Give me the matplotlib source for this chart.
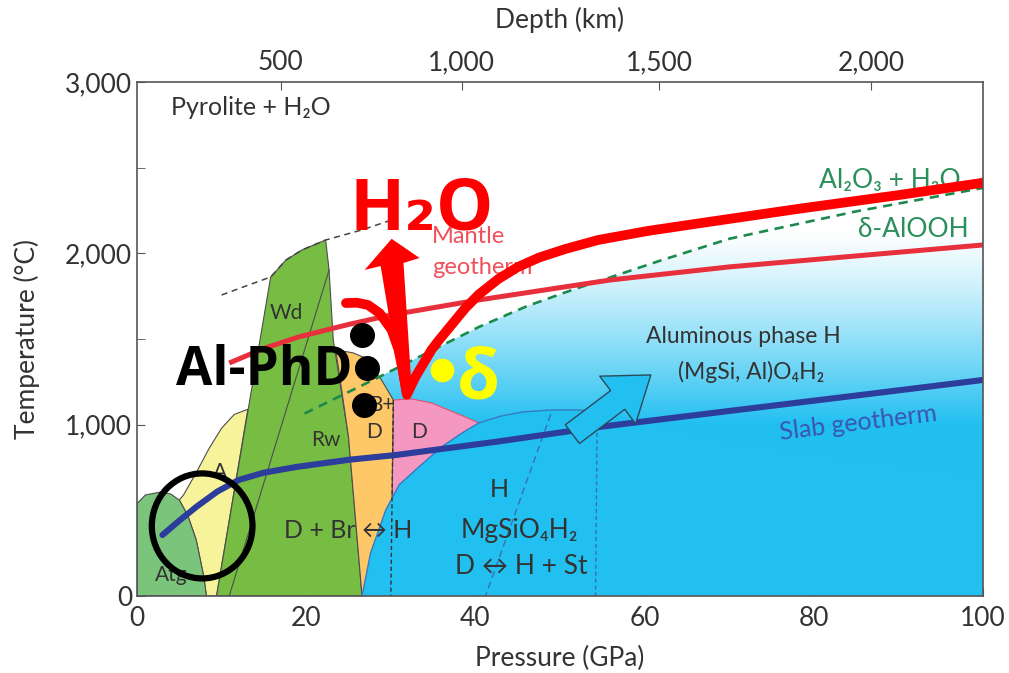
import numpy as np
import matplotlib
matplotlib.use("Agg")
import matplotlib.pyplot as plt
from matplotlib.patches import Polygon, Ellipse, FancyArrowPatch

plt.rcParams['font.family'] = ['Lato', 'DejaVu Sans']

# ---- phase fields (pressure GPa, temperature degC) ----
atg_p = [0, 0, 1.0, 2.8, 4.0, 5.0, 6.0, 7.0, 7.9, 8.2]
atg_t = [0, 540, 590, 607, 595, 560, 470, 327, 111, 0]

a_p = [8.2, 7.9, 7.0, 6.0, 5.0, 5.5, 7.0, 8.5, 10.0, 11.5, 13.1, 9.4]
a_t = [0, 111, 327, 470, 560, 590, 720, 860, 980, 1060, 1090, 0]

wd_p = [9.4, 15.8, 17.6, 19.5, 22.3, 22.7, 23.2, 25.0, 26.6]
wd_t = [0, 1862, 1961, 2020, 2078, 1903, 1494, 928, 0]

bd_p = [26.6, 25.0, 23.5, 25.5, 27.0, 28.9, 30.3, 30.0]
bd_t = [0, 928, 1436, 1420, 1389, 1261, 1144, 0]

d_p = [30.0, 30.3, 32.5, 34.8, 38.8, 40.4, 40.4]
d_t = [0, 1144, 1150, 1127, 1045, 1010, 0]

h_p = [26.6, 27.6, 29.4, 31.0, 33.3, 36.0, 38.4, 40.4, 43.0, 45.5, 49.0, 52.2, 54.5, 60, 70, 100, 100]
h_t = [0, 250, 502, 650, 753, 870, 951, 1010, 1050, 1074, 1086, 1086, 1075, 1020, 900, 700, 0]

# ---- boundaries and geotherms ----
daloo_p = [19.8, 28.6, 33.3, 40.4, 46, 51.4, 55.7, 62, 70, 85, 100]
daloo_t = [1065, 1278, 1395, 1570, 1690, 1786, 1856, 1960, 2085, 2245, 2382]

melt_p = [10.0, 12.9, 15.8, 17.6, 19.5, 22.3, 26.6, 30.1]
melt_t = [1757, 1810, 1862, 1961, 2020, 2078, 2137, 2195]

mantle_p = [10.9, 15, 19.1, 25, 30, 40, 56, 70, 85, 100]
mantle_t = [1360, 1445, 1512, 1585, 1640, 1725, 1845, 1921, 1985, 2049]

slab_p = [3, 5, 7, 9.5, 12, 15, 18.8, 25, 30.6, 42.4, 54.5, 70, 85, 100]
slab_t = [356, 440, 520, 610, 677, 720, 753, 795, 823, 900, 986, 1080, 1170, 1261]

h2o_p = [24.7, 26.0, 27.3, 28.7, 30.1, 30.9, 31.4, 31.9, 32.9, 34.8, 35.7, 38.8,
         40.4, 42.7, 45, 47.5, 50.6, 54.5, 60.4, 66.4, 78.2, 90, 100]
h2o_t = [1710, 1712, 1699, 1650, 1553, 1440, 1320, 1175, 1278, 1436, 1494, 1680,
         1760, 1850, 1920, 1975, 2025, 2078, 2131, 2175, 2260, 2340, 2412]

# red upward arrow outline
arrow_p = [31.3, 32.5, 31.5, 33.4, 30.1, 26.9, 28.8]
arrow_t = [1185, 1185, 1944, 1973, 2085, 1903, 1926]

phd_p = [26.6, 27.2, 26.8]
phd_t = [1524, 1331, 1115]
delta_p = [36.0]
delta_t = [1319]

depth_pos = [17.0, 38.4, 61.7, 86.8]
depth_lab = ['500', '1,000', '1,500', '2,000']

edge = '#4d4d4d'
txt = '#333333'

fig = plt.figure(figsize=(10.09, 6.73), dpi=100)
ax = fig.add_axes([0.1358, 0.1144, 0.8384, 0.7637])
ax.set_xlim(0, 100)
ax.set_ylim(0, 3000)

# light-blue gradient below the delta-AlOOH boundary
gx = np.linspace(0, 100, 300)
gy = np.linspace(0, 3000, 400)
GX, GY = np.meshgrid(gx, gy)
f = np.clip((2150 - GY) / 1150, 0, 1) ** 1.25
blue = np.array([0.13, 0.75, 0.945])
img = np.ones(GY.shape + (3,)) * (1 - f[..., None]) + blue * f[..., None]
im = ax.imshow(img, extent=[0, 100, 0, 3000], origin='lower', aspect='auto', zorder=1)
clip = Polygon(list(zip(daloo_p + [100, daloo_p[0]], daloo_t + [0, 0])), closed=True,
               transform=ax.transData, facecolor='none', edgecolor='none')
ax.add_patch(clip)
im.set_clip_path(clip)

def field(p, t, color, ec=edge, lw=0.8):
    ax.add_patch(Polygon(list(zip(p, t)), closed=True, facecolor=color,
                         edgecolor=ec, lw=lw, zorder=2))

field(a_p, a_t, '#f7f39b')
field(atg_p, atg_t, '#7ac47b')
field(wd_p, wd_t, '#77bd44')
field(d_p, d_t, '#f598c1', ec='#e5506e')
field(bd_p, bd_t, '#fec767')
field(h_p, h_t, '#22c0f1', ec='none')
ax.plot(h_p[:13], h_t[:13], color='#3a78c2', lw=1.0, zorder=3)

# inner boundaries
ax.plot([22.7, 10.9], [1903, 0], color=edge, lw=0.8, zorder=3)
ax.plot([30.3, 30.0], [1144, 0], color='#333333', lw=1.0, ls=(0, (3, 2)), zorder=3)
ax.plot([48.9, 41.2], [1060, 0], color='#3a6fb0', lw=1.0, ls=(0, (5, 3)), zorder=3)
ax.plot([54.4, 54.2], [1075, 0], color='#3a6fb0', lw=1.0, ls=(0, (3, 2)), zorder=3)
ax.plot(melt_p, melt_t, color='#444444', lw=1.1, ls=(0, (4, 3)), zorder=3)
ax.plot(daloo_p, daloo_t, color='#1b8a4c', lw=1.9, ls=(0, (3.5, 2.5)), zorder=4)

# geotherms
ax.plot(mantle_p, mantle_t, color='#e8303c', lw=3.6, zorder=5, solid_capstyle='butt')
ax.plot(slab_p, slab_t, color='#2c3d9c', lw=4.4, zorder=5, solid_capstyle='round')
ax.plot(h2o_p, h2o_t, color='#ff0000', lw=7, zorder=6, solid_joinstyle='round',
        solid_capstyle='round')
ax.add_patch(Polygon(list(zip(arrow_p, arrow_t)), closed=True, facecolor='#ff0000',
                     edgecolor='none', zorder=6))

# blue arrow
ax.add_patch(FancyArrowPatch((51.2, 935), (61.0, 1300),
                             arrowstyle='simple,head_width=1.65,head_length=1.15,tail_width=0.65',
                             mutation_scale=26, facecolor='#22c0f1', edgecolor='#2b4a5a',
                             lw=1.0, zorder=7))

# markers
ax.plot(phd_p, phd_t, 'o', color='black', ms=17, zorder=8)
ax.plot(delta_p, delta_t, 'o', color='#ffff00', ms=16, zorder=8)
ax.add_patch(Ellipse((7.7, 409), 11.9, 613, facecolor='none', edgecolor='black', lw=4.5, zorder=8))

# labels inside the diagram
ax.text(4.0, 2850, 'Pyrolite + H₂O', fontsize=18, color=txt, va='center', ha='left', zorder=9)
ax.text(17.6, 1652, 'Wd', fontsize=15, color=txt, ha='center', va='center', zorder=9)
ax.text(22.3, 911, 'Rw', fontsize=15, color=txt, ha='center', va='center', zorder=9)
ax.text(9.8, 724, 'A', fontsize=15, color=txt, ha='center', va='center', zorder=4)
ax.text(4.1, 123, 'Atg', fontsize=15, color=txt, ha='center', va='center', zorder=4)
ax.text(28.9, 1115, 'B+', fontsize=15, color=txt, ha='center', va='center', zorder=4)
ax.text(28.0, 957, 'D', fontsize=15, color=txt, ha='center', va='center', zorder=4)
ax.text(33.3, 957, 'D', fontsize=15, color=txt, ha='center', va='center', zorder=4)
ax.text(25.0, 385, 'D + Br ↔ H', fontsize=18, color=txt, ha='center', va='center', zorder=9)
ax.text(42.8, 619, 'H', fontsize=18, color=txt, ha='center', va='center', zorder=9)
ax.text(45.2, 385, 'MgSiO₄H₂', fontsize=19, color=txt, ha='center', va='center', zorder=9)
ax.text(45.4, 175, 'D ↔ H + St', fontsize=19, color=txt, ha='center', va='center', zorder=9)
ax.text(71.7, 1512, 'Aluminous phase H', fontsize=16.5, color=txt, ha='center', va='center', zorder=9)
ax.text(72.6, 1308, '(MgSi, Al)O₄H₂', fontsize=16.5, color=txt, ha='center', va='center', zorder=9)
ax.text(85.3, 1010, 'Slab geotherm', fontsize=18, color='#3a55b0', ha='center', va='center',
        rotation=7, zorder=9)
ax.text(98.3, 2137, 'δ-AlOOH', fontsize=19, color='#2a8f5a', ha='right', va='center', zorder=9)
ax.text(97.4, 2428, 'Al₂O₃ + H₂O', fontsize=19, color='#2a8f5a', ha='right', va='center', zorder=4)
ax.text(34.9, 2096, 'Mantle', fontsize=17, color='#f0505a', ha='left', va='center', zorder=4)
ax.text(34.9, 1915, 'geotherm', fontsize=17, color='#f0505a', ha='left', va='center', zorder=4)

ax.text(33.7, 2253, 'H₂O', fontsize=52, color='#ff0000', fontweight='bold', ha='center',
        va='center', family=['Open Sans', 'DejaVu Sans'], zorder=10)
ax.text(15.0, 1313, 'Al-PhD', fontsize=38, color='black', fontweight='bold', ha='center',
        va='center', family=['Open Sans', 'DejaVu Sans'], zorder=10)
ax.text(40.3, 1255, 'δ', fontsize=50, color='#ffff00', fontweight='bold', ha='center',
        va='center', family=['Open Sans', 'DejaVu Sans'], zorder=10)

# axes styling
for s in ax.spines.values():
    s.set_color('#555555')
    s.set_linewidth(1.2)
    s.set_zorder(11)
ax.set_xticks([0, 20, 40, 60, 80, 100])
ax.set_yticks([0, 1000, 2000, 3000])
ax.set_yticklabels(['0', '1,000', '2,000', '3,000'])
ax.set_yticks([500, 1500, 2500], minor=True)
ax.tick_params(axis='both', which='both', direction='in', length=6, color='#555555',
               labelsize=19, labelcolor=txt)
ax.tick_params(axis='x', pad=7)
ax.set_xlabel('Pressure (GPa)', fontsize=19, color=txt, labelpad=11)
ax.set_ylabel('Temperature (°C)', fontsize=19, color=txt, labelpad=18)

ax2 = ax.twiny()
ax2.set_xlim(0, 100)
ax2.set_xticks(depth_pos)
ax2.set_xticklabels(depth_lab)
ax2.tick_params(axis='x', direction='in', length=6, color='#555555', labelsize=19,
                labelcolor=txt, pad=5)
ax2.set_xlabel('Depth (km)', fontsize=19, color=txt, labelpad=16)
for s in ax2.spines.values():
    s.set_visible(False)

fig.savefig('out.png', dpi=100)
